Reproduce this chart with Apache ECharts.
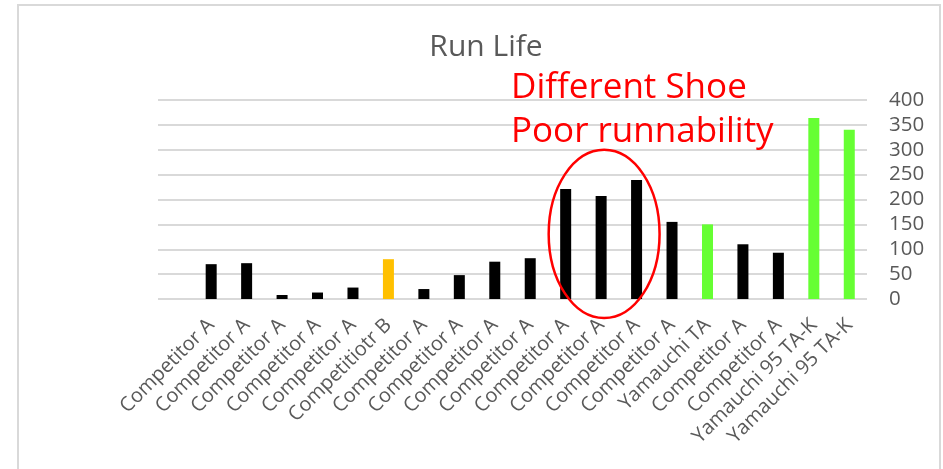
<!DOCTYPE html>
<html>
<head>
<meta charset="utf-8">
<script src="https://cdn.jsdelivr.net/npm/echarts@6/dist/echarts.min.js"></script>
<style>
  html, body { margin: 0; padding: 0; background: #fff; }
  #chart { width: 943px; height: 469px; }
</style>
</head>
<body>
<div id="chart"></div>
<script>
// 類別（第一格留空）
const categories = [
  '', 'Competitor A', 'Competitor A', 'Competitor A', 'Competitor A', 'Competitor A',
  'Competitiotr B', 'Competitor A', 'Competitor A', 'Competitor A', 'Competitor A',
  'Competitor A', 'Competitor A', 'Competitor A', 'Competitor A', 'Yamauchi TA',
  'Competitor A', 'Competitor A', 'Yamauchi 95 TA-K', 'Yamauchi 95 TA-K'
]
// 跑壽命數值
const runLife = [null, 70, 72, 8, 13, 23, 80, 20, 48, 75, 82, 221, 207, 239, 155, 150, 110, 93, 364, 340]
// 每根柱子的顏色
const barColors = [
  '#000', '#000', '#000', '#000', '#000', '#000', '#FFC000', '#000', '#000', '#000', '#000',
  '#000', '#000', '#000', '#000', '#66FF33', '#000', '#000', '#66FF33', '#66FF33'
]
const yTicks = { min: 0, max: 400, interval: 50 }
// 註解：圈起來的三根柱子
const circledRange = [11, 13]
const noteLines = ['Different Shoe', 'Poor runnability']

const font = '"Open Sans", "Noto Sans", sans-serif'
const myChart = echarts.init(document.getElementById('chart'))

const option = {
  animation: false,
  title: {
    text: 'Run Life',
    left: 481,
    textAlign: 'center',
    top: 27,
    textStyle: { fontFamily: font, fontSize: 30, fontWeight: 'normal', color: '#595959' }
  },
  grid: { left: 158, right: 76, top: 100, bottom: 170 },
  xAxis: {
    type: 'category',
    data: categories,
    axisLine: { show: false },
    axisTick: { show: false },
    axisLabel: {
      interval: 0,
      rotate: 45,
      margin: 23,
      fontFamily: font,
      fontSize: 20,
      color: '#595959'
    }
  },
  yAxis: {
    type: 'value',
    position: 'right',
    min: yTicks.min,
    max: yTicks.max,
    interval: yTicks.interval,
    axisLine: { show: false },
    axisTick: { show: false },
    splitLine: { lineStyle: { color: '#d9d9d9', width: 2 } },
    axisLabel: { margin: 22, fontFamily: font, fontSize: 20.5, color: '#595959' }
  },
  series: [
    {
      name: 'Run Life',
      type: 'bar',
      barWidth: 11,
      data: runLife.map((v, i) => ({ value: v, itemStyle: { color: barColors[i] } }))
    }
  ]
}

myChart.setOption(option)

// 依資料座標放置紅色橢圓與註解文字
const pLeft = myChart.convertToPixel({ gridIndex: 0 }, [circledRange[0], 0])
const pRight = myChart.convertToPixel({ gridIndex: 0 }, [circledRange[1], 0])
const pTop = myChart.convertToPixel({ gridIndex: 0 }, [circledRange[0], 300])
const cx = (pLeft[0] + pRight[0]) / 2 + 3
const cy = (pTop[1] + pLeft[1] + 19) / 2
const rx = (pRight[0] - pLeft[0]) / 2 + 20
const ry = (pLeft[1] + 19 - pTop[1]) / 2

myChart.setOption({
  graphic: [
    {
      type: 'rect',
      shape: { x: 18, y: 5, width: 922, height: 480 },
      style: { fill: 'none', stroke: '#d9d9d9', lineWidth: 2 },
      silent: true
    },
    {
      type: 'ellipse',
      shape: { cx: cx, cy: cy, rx: rx, ry: ry },
      style: { fill: 'none', stroke: '#ff0000', lineWidth: 2.5 },
      z: 10
    },
    {
      type: 'text',
      left: 511,
      top: 66,
      style: {
        text: noteLines.join('\n'),
        fontFamily: font,
        fontSize: 35,
        lineHeight: 44,
        fill: '#ff0000'
      },
      z: 10
    }
  ]
})
</script>
</body>
</html>
